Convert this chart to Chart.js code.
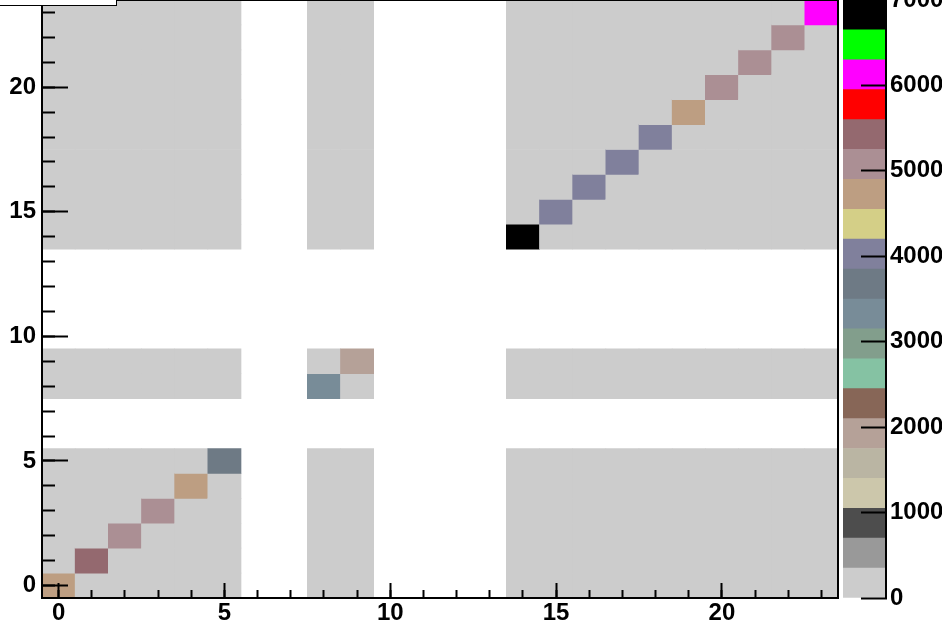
<!DOCTYPE html>
<html>
<head>
<meta charset="utf-8">
<script src="https://cdn.jsdelivr.net/npm/chart.js@4/dist/chart.umd.min.js"></script>
<style>
html, body { margin: 0; padding: 0; background: #ffffff; }
#wrap { position: relative; width: 942px; height: 631px; overflow: hidden; background: #ffffff; }
#main { position: absolute; left: 0; top: 0; }
#zbar { position: absolute; left: 838px; top: 0; }
#titlebox { position: absolute; left: -2px; top: -29px; width: 117px; height: 33px; background: #ffffff; border: 1.5px solid #000000; }
</style>
</head>
<body>
<div id="wrap">
  <canvas id="main" width="942" height="631"></canvas>
  <canvas id="zbar" width="104" height="631"></canvas>
  <div id="titlebox"></div>
</div>
<script>
// ---------------- data ----------------
// bins (same on x and y) that hold content
const filledBins = [0, 1, 2, 3, 4, 5, 8, 9, 14, 15, 16, 17, 18, 19, 20, 21, 22, 23];
// content of the diagonal cell (bin,bin) for each filled bin, in the same order
const diagonalValues = [4700, 5400, 5050, 5050, 4700, 3700, 3300, 1900, 6980, 4000, 4000, 4000, 4000, 4700, 5050, 5050, 5050, 6100];
// every off-diagonal filled cell sits in the lowest colour band
const offDiagonalValue = 100;

// axes
const xMajorTicks = [0, 5, 10, 15, 20];
const yMajorTicks = [0, 5, 10, 15, 20];
const minorTicks = [0, 1, 2, 3, 4, 5, 6, 7, 8, 9, 10, 11, 12, 13, 14, 15, 16, 17, 18, 19, 20, 21, 22, 23];
const zTicks = [0, 1000, 2000, 3000, 4000, 5000, 6000, 7000];
const axisMin = -0.5, axisMax = 23.5;
const zMin = 0, zMax = 7000;

// colour palette (bottom to top of the colour bar)
const paletteColors = ['#CCCCCC', '#999999', '#4D4D4D', '#CCC7AB', '#BAB5A3', '#B5A198', '#876657',
  '#85C2A3', '#829E8C', '#788C98', '#6E7A85', '#80809C', '#D4CF87', '#BD9E82', '#AB8F94',
  '#94696F', '#FF0000', '#FF00FF', '#00FF00', '#000000'];

// ---------------- build chart data ----------------
const nColors = paletteColors.length;
function colorFor(v) {
  let k = Math.floor((v - zMin) / (zMax - zMin) * nColors);
  if (k < 0) k = 0;
  if (k > nColors - 1) k = nColors - 1;
  return paletteColors[k];
}
const cells = [];
filledBins.forEach((bx, ix) => {
  filledBins.forEach((by, iy) => {
    const v = ix === iy ? diagonalValues[ix] : offDiagonalValue;
    cells.push({ x: bx, y: [by - 0.5, by + 0.5], v: v });
  });
});
const zLevels = paletteColors.map((_, k) => zMin + k * (zMax - zMin) / nColors);
zLevels.push(zMax);

const font = { family: "'Liberation Sans', Arial, Helvetica, sans-serif", size: 24, weight: 'bold' };
const setTicks = arr => s => { s.ticks = arr.map(v => ({ value: v })); };
const plain = v => String(v);
function fixBox(w, h) {
  return s => {
    if (w !== null) s.width = w;
    if (h !== null) s.height = h;
    s.paddingTop = 0; s.paddingBottom = 0; s.paddingLeft = 0; s.paddingRight = 0;
  };
}

new Chart(document.getElementById('main'), {
  type: 'bar',
  data: {
    datasets: [{
      data: cells,
      xAxisID: 'x',
      yAxisID: 'y',
      backgroundColor: ctx => colorFor(ctx.raw ? ctx.raw.v : 0),
      borderWidth: 0,
      barPercentage: 1,
      categoryPercentage: 1,
      grouped: false
    }]
  },
  options: {
    responsive: false,
    animation: false,
    events: [],
    layout: { padding: 0, autoPadding: false },
    plugins: { legend: { display: false }, tooltip: { enabled: false }, title: { display: false } },
    scales: {
      x: {
        type: 'linear', position: 'bottom', min: axisMin, max: axisMax, weight: 0, offset: false,
        afterBuildTicks: setTicks(xMajorTicks),
        afterFit: fixBox(null, 33),
        grid: { display: true, offset: false, drawOnChartArea: false, drawTicks: true, tickLength: -15, tickColor: '#000', tickWidth: 2, z: 1 },
        border: { display: true, color: '#000', width: 2, z: 1 },
        ticks: { font: font, color: '#000', padding: 16, maxRotation: 0, minRotation: 0, autoSkip: false, callback: plain }
      },
      x2: {
        type: 'linear', position: 'bottom', min: axisMin, max: axisMax, weight: -1, offset: false,
        afterBuildTicks: setTicks(minorTicks),
        afterFit: fixBox(null, 0),
        grid: { display: true, offset: false, drawOnChartArea: false, drawTicks: true, tickLength: -8, tickColor: '#000', tickWidth: 2, z: 1 },
        border: { display: false },
        ticks: { display: false }
      },
      xt: {
        type: 'linear', position: 'top', min: axisMin, max: axisMax, offset: false,
        afterBuildTicks: setTicks([]),
        afterFit: fixBox(null, 0),
        grid: { display: false },
        border: { display: true, color: '#000', width: 2, z: 1 },
        ticks: { display: false }
      },
      y: {
        type: 'linear', position: 'left', min: axisMin, max: axisMax, weight: 0,
        afterBuildTicks: setTicks(yMajorTicks),
        afterFit: fixBox(42, null),
        grid: { display: true, drawOnChartArea: false, drawTicks: true, tickLength: -26, tickColor: '#000', tickWidth: 2, z: 1 },
        border: { display: true, color: '#000', width: 2, z: 1 },
        ticks: { font: font, color: '#000', padding: 32, autoSkip: false, callback: plain }
      },
      y2: {
        type: 'linear', position: 'left', min: axisMin, max: axisMax, weight: -1,
        afterBuildTicks: setTicks(minorTicks),
        afterFit: fixBox(0, null),
        grid: { display: true, drawOnChartArea: false, drawTicks: true, tickLength: -13, tickColor: '#000', tickWidth: 2, z: 1 },
        border: { display: false },
        ticks: { display: false }
      },
      yr: {
        type: 'linear', position: 'right', min: axisMin, max: axisMax,
        afterBuildTicks: setTicks([]),
        afterFit: fixBox(104, null),
        grid: { display: false },
        border: { display: true, color: '#000', width: 2, z: 1 },
        ticks: { display: false }
      }
    }
  }
});

new Chart(document.getElementById('zbar'), {
  type: 'bar',
  data: {
    labels: [''],
    datasets: paletteColors.map((c, k) => ({
      data: [[zLevels[k], zLevels[k + 1]]],
      backgroundColor: c,
      borderWidth: 0,
      barPercentage: 1,
      categoryPercentage: 1,
      grouped: false
    }))
  },
  options: {
    responsive: false,
    animation: false,
    events: [],
    layout: { padding: { left: 5, right: 0, top: 0, bottom: 33 }, autoPadding: false },
    plugins: { legend: { display: false }, tooltip: { enabled: false } },
    scales: {
      x: { type: 'category', display: false },
      y: {
        type: 'linear', position: 'right', min: zMin, max: zMax,
        afterBuildTicks: setTicks(zTicks),
        afterFit: fixBox(56, null),
        grid: { display: true, drawOnChartArea: false, drawTicks: true, tickLength: -25, tickColor: '#000', tickWidth: 2, z: 1 },
        border: { display: true, color: '#000', width: 2, z: 1 },
        ticks: { font: font, color: '#000', padding: 29, autoSkip: false, callback: plain }
      }
    }
  }
});
</script>
</body>
</html>
